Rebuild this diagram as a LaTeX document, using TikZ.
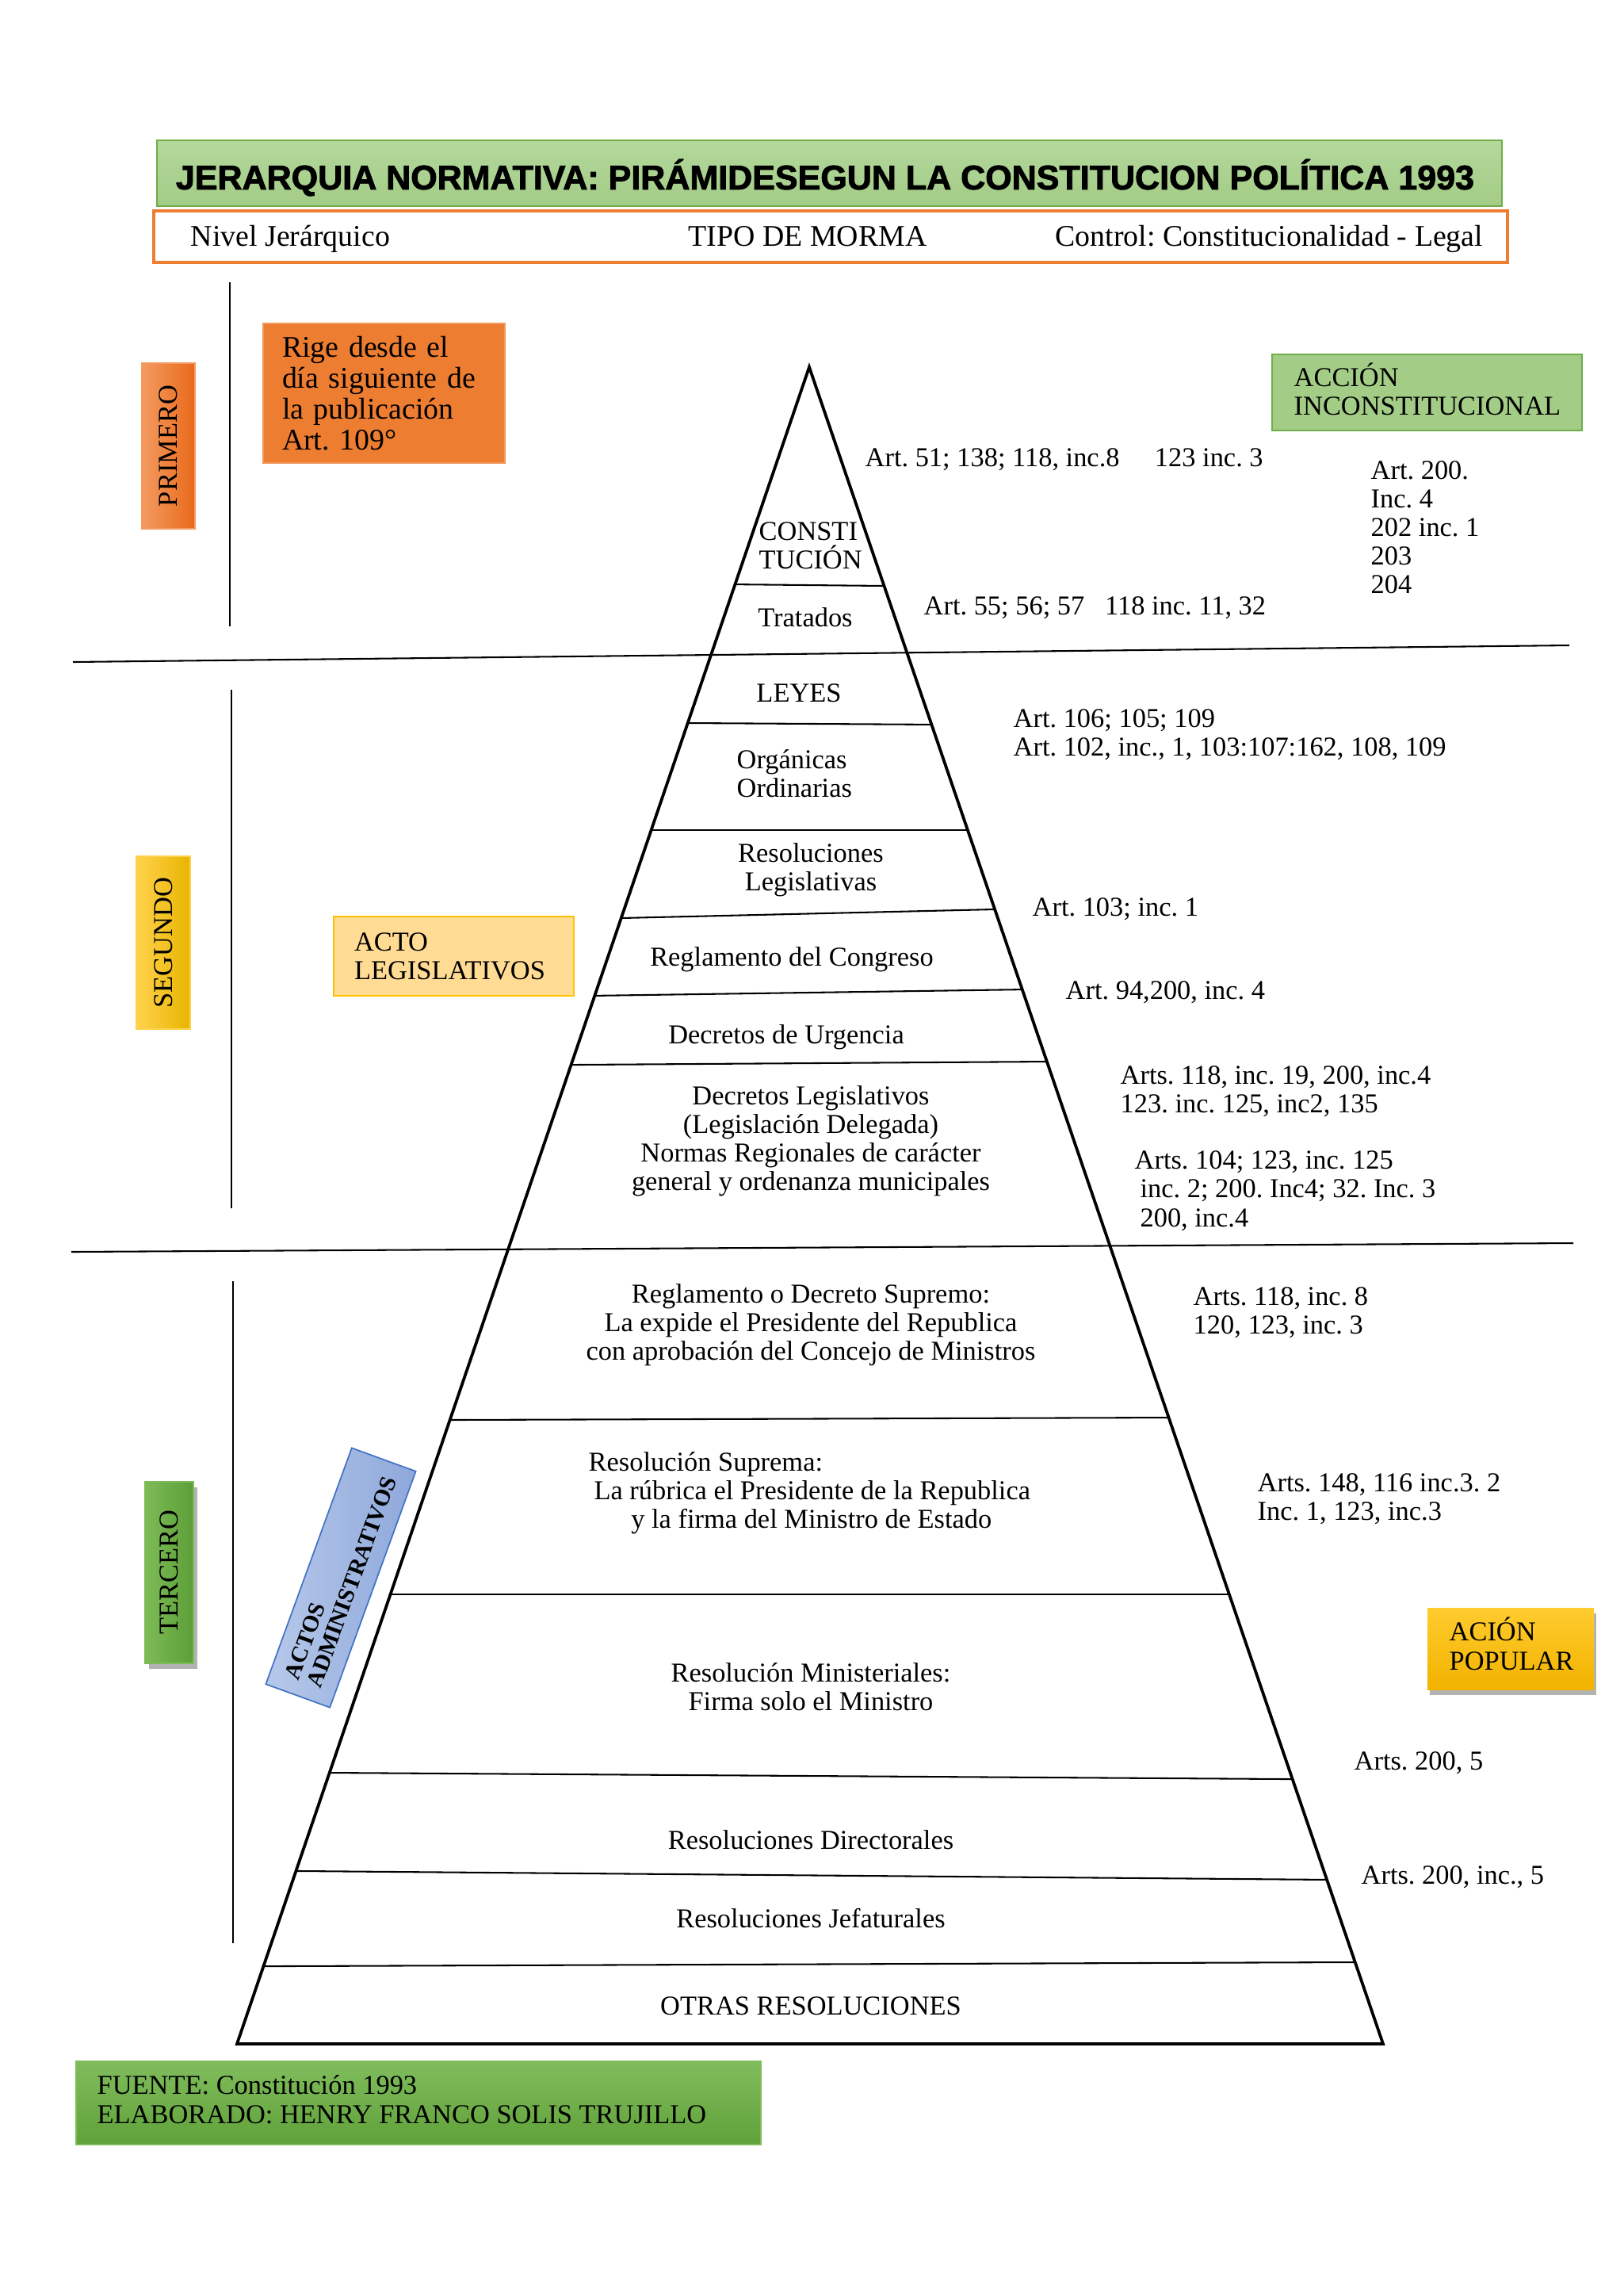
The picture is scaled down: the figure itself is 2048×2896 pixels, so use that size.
\documentclass[tikz,border=0pt]{standalone}
\usepackage{fontspec}
\setmainfont{Liberation Serif}
\newfontfamily\titlefont[BoldFeatures={FakeBold=2}]{Liberation Sans}
\usetikzlibrary{calc,shadows}
\newdimen\px \px=0.29055pt
\definecolor{orangeM}{HTML}{ED7D31}
\definecolor{primL}{HTML}{F49B60}
\definecolor{primD}{HTML}{E8691A}
\definecolor{segL}{HTML}{FFD24D}
\definecolor{segD}{HTML}{E9B400}
\definecolor{terL}{HTML}{7DBB57}
\definecolor{terD}{HTML}{5C9E38}
\definecolor{grnL}{HTML}{B3D89C}
\definecolor{grnD}{HTML}{A3CC86}
\definecolor{grnB}{HTML}{70AD47}
\definecolor{admL}{HTML}{B7C9EA}
\definecolor{admD}{HTML}{8EA8DB}
\definecolor{admB}{HTML}{4472C4}
\definecolor{popL}{HTML}{FFCB2E}
\definecolor{popD}{HTML}{F2B300}
\definecolor{fueL}{HTML}{80BC5C}
\definecolor{fueD}{HTML}{60A23A}
\definecolor{actL}{HTML}{FFDB94}
\definecolor{actB}{HTML}{FFC000}
\begin{document}
\frenchspacing
\begin{tikzpicture}[x=0.29055pt,y=-0.29055pt,
  txt/.style={font=\fontsize{10}{10.5}\selectfont, inner sep=0pt, yshift=-0.6pt},
  ltxt/.style={txt, anchor=west, align=left},
  ctxt/.style={txt, align=center},
  hdr/.style={font=\fontsize{11}{12}\selectfont, inner sep=0pt},
  pedge/.style={line width=1.1pt, line join=miter},
  thinl/.style={line width=0.6pt},
  lvl/.style={font=\fontsize{10}{10.5}\selectfont, rotate=90, inner sep=0pt, line width=0.4pt},
  tbox/.style={font=\fontsize{10}{10.5}\selectfont, align=left, inner ysep=0pt, line width=0.5pt},
  emptybox/.style={inner sep=0pt, line width=0.5pt}
]
\useasboundingbox (0,0) rectangle (2048,2896);
\fill[white] (0,0) rectangle (2048,2896);

% title and header
\node[minimum width=1697\px, minimum height=83\px, top color=grnL, bottom color=grnD, draw=grnB, line width=0.5pt, inner sep=0pt] (title) at (1046.5,218.5) {};
\node[font=\titlefont\bfseries\fontsize{12.5}{14}\selectfont, inner sep=0pt] (titletxt) at (1041,224) {JERARQUIA NORMATIVA: PIRÁMIDESEGUN LA CONSTITUCION POLÍTICA 1993};
\node[minimum width=1708\px, minimum height=65\px, draw=orangeM, line width=1.1pt, fill=white, inner sep=0pt] (head) at (1048,298.5) {};
\node[hdr, anchor=west] (h1) at (240,301) {Nivel Jerárquico};
\node[hdr] (h2) at (1019,298) {TIPO DE MORMA};
\node[hdr, anchor=west] (h3) at (1331,301) {Control: Constitucionalidad - Legal};

% vertical lines and separators
\coordinate (v1a) at (290,356); \coordinate (v1b) at (290,790);
\coordinate (v2a) at (292,870); \coordinate (v2b) at (292,1524);
\coordinate (v3a) at (294,1616); \coordinate (v3b) at (294,2451);
\draw[thinl] (v1a) -- (v1b);
\draw[thinl] (v2a) -- (v2b);
\draw[thinl] (v3a) -- (v3b);
\coordinate (s1a) at (92,835); \coordinate (s1b) at (1980,814);
\coordinate (s2a) at (90,1579); \coordinate (s2b) at (1985,1568);
\draw[thinl] (s1a) -- (s1b);
\draw[thinl] (s2a) -- (s2b);

% level labels
\node[lvl, minimum width=209\px, minimum height=67\px, left color=primL, right color=primD, draw=primL] (prim) at (212.5,562.5) {PRIMERO};
\node[lvl, minimum width=218\px, minimum height=68\px, left color=segL, right color=segD, draw=segL] (seg) at (206,1189) {SEGUNDO};
\node[lvl, minimum width=229\px, minimum height=61\px, left color=terL, right color=terD, draw=terL,
  drop shadow={shadow xshift=1.5pt, shadow yshift=-2pt, opacity=0.3, fill=black}] (ter) at (213.5,1983.5) {TERCERO};

% side boxes
\node[tbox, font=\fontsize{11}{11.3}\selectfont, fill=orangeM, draw=orangeM!80!white, minimum height=176\px, text width=257\px, inner xsep=24\px] (rige) at (484.5,496) {Rige desde el\\día siguiente de\\la publicación\\Art. 109°};
\node[emptybox, fill=grnD, draw=grnB, minimum height=96\px, minimum width=391\px] (accion) at (1800.5,495) {};
\node[ltxt, yshift=0.8pt] (acciontxt) at (1632,492) {ACCIÓN\\INCONSTITUCIONAL};
\node[tbox, fill=actL, draw=actB, minimum height=100\px, text width=251\px, inner xsep=26\px] (actoleg) at (572.5,1206) {ACTO\\LEGISLATIVOS};
\node[tbox, font=\fontsize{8.5}{8.7}\selectfont\bfseries, left color=admL, right color=admD, draw=admB, rotate=70, minimum height=86\px, text width=281\px, inner xsep=18\px] (adm) at (430,1990) {ACTOS\\ADMINISTRATIVOS};
\node[emptybox, top color=popL, bottom color=popD, draw=none, minimum height=103\px, minimum width=210\px,
  drop shadow={shadow xshift=1pt, shadow yshift=-2pt, opacity=0.3, fill=black}] (popular) at (1906,2079.5) {};
\node[ltxt, yshift=0.8pt] (populartxt) at (1828,2074) {ACIÓN\\POPULAR};
\node[emptybox, top color=fueL, bottom color=fueD, draw=fueL, minimum height=105\px, minimum width=864\px] (fuente) at (528,2652.5) {};
\node[ltxt, yshift=0.8pt] (fuentetxt) at (122,2649) {FUENTE: Constitución 1993\\ELABORADO: HENRY FRANCO SOLIS TRUJILLO};

% pyramid
\coordinate (A) at (1021,463);
\coordinate (BL) at (299,2578);
\coordinate (BR) at (1745,2578);
\foreach \l/\r in {0.1296/0.1305, 0.2123/0.2132, 0.2761/0.2761, 0.3286/0.3234, 0.3749/0.3712, 0.4161/0.4142, 0.6279/0.6265, 0.7319/0.7319, 0.8383/0.8421, 0.8969/0.9021, 0.9537/0.9513}
  \draw[thinl] ($(A)!\l!(BL)$) -- ($(A)!\r!(BR)$);
\draw[pedge] (A) -- (BL) -- (BR) -- cycle;

% pyramid texts
\node[ltxt] (p1) at (957,686) {CONSTI\\TUCIÓN};
\node[ctxt] (p2) at (1016,777) {Tratados};
\node[ctxt] (p3) at (1008,872) {LEYES};
\node[ltxt] (p4) at (929,974) {Orgánicas\\Ordinarias};
\node[ctxt] (p5) at (1023,1095) {Resoluciones\\Legislativas};
\node[ctxt] (p6) at (999,1208) {Reglamento del Congreso};
\node[ctxt] (p7) at (992,1306) {Decretos de Urgencia};
\node[ctxt] (p8) at (1023,1437) {Decretos Legislativos\\(Legislación Delegada)\\Normas Regionales de carácter\\general y ordenanza municipales};
\node[ctxt] (p9) at (1023,1669) {Reglamento o Decreto Supremo:\\La expide el Presidente del Republica\\con aprobación del Concejo de Ministros};
\node[ltxt] (p10) at (742,1881) {Resolución Suprema:\\\hspace*{2pt}La rúbrica el Presidente de la Republica\\\hspace*{15.6pt}y la firma del Ministro de Estado};
\node[ctxt] (p11) at (1023,2126) {Resolución Ministeriales:\\Firma solo el Ministro};
\node[ctxt] (p12) at (1023,2319) {Resoluciones Directorales};
\node[ctxt] (p13) at (1023,2417) {Resoluciones Jefaturales};
\node[ctxt] (p14) at (1023,2528) {OTRAS RESOLUCIONES};

% article references
\node[ltxt] (r1) at (1091,578) {Art. 51; 138; 118, inc.8\hspace{12.9pt}123 inc. 3};
\node[ltxt] (r2) at (1165,765) {Art. 55; 56; 57\hspace{7.5pt}118 inc. 11, 32};
\node[ltxt] (r3) at (1278,925) {Art. 106; 105; 109\\Art. 102, inc., 1, 103:107:162, 108, 109};
\node[ltxt] (r4) at (1302,1145) {Art. 103; inc. 1};
\node[ltxt] (r5) at (1344,1250) {Art. 94,200, inc. 4};
\node[ltxt] (r6) at (1413,1375) {Arts. 118, inc. 19, 200, inc.4\\123. inc. 125, inc2, 135};
\node[ltxt] (r7) at (1431,1500) {Arts. 104; 123, inc. 125\\\hspace*{2pt}inc. 2; 200. Inc4; 32. Inc. 3\\\hspace*{2pt}200, inc.4};
\node[ltxt] (r8) at (1505,1654) {Arts. 118, inc. 8\\120, 123, inc. 3};
\node[ltxt] (r9) at (1586,1889) {Arts. 148, 116 inc.3. 2\\Inc. 1, 123, inc.3};
\node[ltxt] (r10) at (1708,2222) {Arts. 200, 5};
\node[ltxt] (r11) at (1717,2366) {Arts. 200, inc., 5};
\node[ltxt] (r12) at (1729,663) {Art. 200.\\Inc. 4\\202 inc. 1\\203\\204};
\end{tikzpicture}
\end{document}
